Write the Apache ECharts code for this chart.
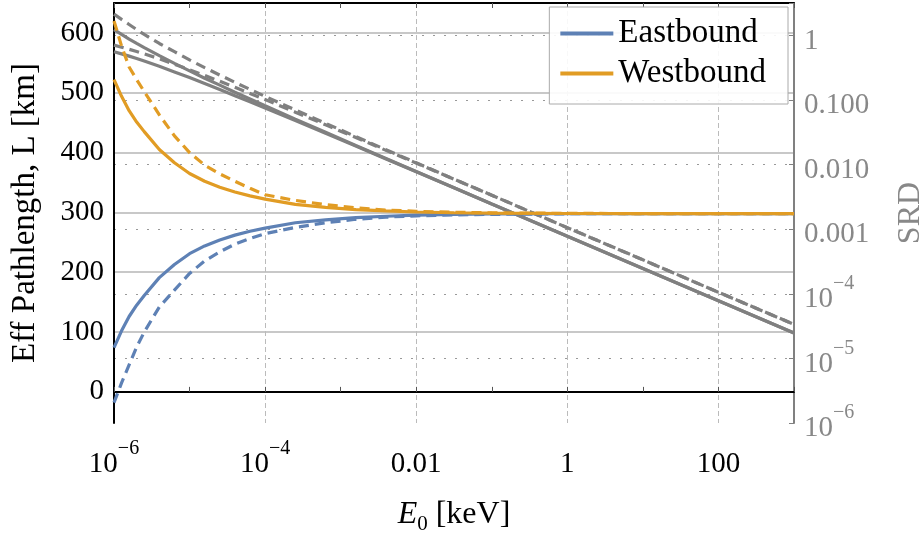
<!DOCTYPE html>
<html>
<head>
<meta charset="utf-8">
<title>Eff Pathlength and SRD vs E0</title>
<script src="https://cdn.jsdelivr.net/npm/echarts@6.0.0/dist/echarts.min.js"></script>
<style>
  html, body { margin: 0; padding: 0; background: #fff; }
  #chart { width: 923px; height: 541px; }
</style>
</head>
<body>
<div id="chart"></div>
<script>
// E0 [keV] sample points (log spaced)
const energy = [1e-6, 1.259e-6, 1.585e-6, 1.995e-6, 2.512e-6, 3.981e-6, 6.31e-6, 1e-5,
  1.585e-5, 2.512e-5, 3.981e-5, 6.31e-5, 1e-4, 2.512e-4, 6.31e-4, 1.585e-3, 3.981e-3,
  1e-2, 3.162e-2, 0.1, 1, 10, 100, 1000]

// effective pathlength L [km], left axis
const eastSolid = [74, 102, 126, 145, 161, 191, 213, 231, 244, 254, 262, 268.4, 273.7,
  282.7, 287.5, 291.2, 293.6, 295.3, 296.6, 297.3, 297.8, 298, 298, 298]
const eastDashed = [-18, 15, 45, 75, 100, 142, 170, 198, 219, 234, 247, 256.5, 264.5,
  275, 282.6, 288.5, 292.1, 294.3, 295.9, 296.7, 297.7, 298, 298, 298]
const westSolid = [522, 494, 470, 451, 435, 405, 383, 365, 352, 342, 334, 327.6, 322.3,
  313.3, 308.5, 304.8, 302.4, 300.7, 299.4, 298.7, 298.2, 298, 298, 298]
const westDashed = [620, 578, 543, 522, 502, 463, 428, 400, 379, 364.5, 352, 340.4, 329.5,
  320, 313, 307.5, 304, 301.8, 300.2, 299.3, 298.4, 298, 298, 298]

// SRD, right axis (log)
const srdSolidA = [1.239, 1.042, 0.885, 0.759, 0.653, 0.489, 0.371, 0.284, 0.219, 0.171,
  0.133, 0.1045, 0.0822, 0.0509, 0.0318, 0.0199, 0.0125, 0.00785, 0.0044, 0.00247,
  0.000782, 0.000247, 0.0000782, 0.0000247]
const srdSolidB = [0.561, 0.521, 0.481, 0.442, 0.403, 0.334, 0.274, 0.224, 0.181, 0.146,
  0.1175, 0.0942, 0.0753, 0.0482, 0.0306, 0.0195, 0.0123, 0.00778, 0.0044, 0.00247,
  0.000782, 0.000247, 0.0000782, 0.0000247]
const srdDashedA = [2.153, 1.782, 1.486, 1.239, 1.045, 0.755, 0.564, 0.421, 0.319, 0.245,
  0.189, 0.147, 0.1146, 0.0706, 0.0439, 0.0273, 0.0171, 0.01074, 0.00598, 0.00337,
  0.00106, 0.000337, 0.000106, 0.0000337]
const srdDashedB = [0.713, 0.662, 0.614, 0.568, 0.522, 0.438, 0.36, 0.296, 0.242, 0.196,
  0.158, 0.127, 0.1021, 0.0652, 0.0415, 0.0264, 0.0167, 0.0106, 0.00598, 0.00337,
  0.00106, 0.000337, 0.000106, 0.0000337]

const blue = '#5e81b5'
const orange = '#e19c24'
const gray = '#808080'
const font = 'Liberation Serif'

const pairs = (ys) => energy.map((e, i) => [e, ys[i]])

const labelRich = (color) => ({
  b: { fontFamily: font, fontSize: 29, lineHeight: 40, verticalAlign: 'bottom', color: color },
  s: { fontFamily: font, fontSize: 20, lineHeight: 20, verticalAlign: 'top', color: color }
})

const decade = (v) => Math.round(Math.log10(v))
const isDecade = (v) => Math.abs(Math.log10(v) - decade(v)) < 1e-6

const xLabel = (v) => {
  if (!isDecade(v)) return ''
  const k = decade(v)
  if (k % 2 !== 0) return ''
  if (k < -2) return '{b|10}{s|\u2212' + (-k) + '}'
  const txt = { '-2': '0.01', '0': '1', '2': '100' }[k]
  return '{b|' + txt + '}'
}

const srdLabel = (v) => {
  if (!isDecade(v)) return ''
  const k = decade(v)
  if (k > 0) return ''
  if (k <= -4) return '{b|10}{s|\u2212' + (-k) + '}'
  const txt = { '-3': '0.001', '-2': '0.010', '-1': '0.100', '0': '1' }[k]
  return '{b|' + txt + '}'
}

const line = (name, ys, color, dashed, yAxisIndex) => ({
  name: name,
  type: 'line',
  yAxisIndex: yAxisIndex,
  data: pairs(ys),
  symbol: 'none',
  clip: true,
  emphasis: { disabled: true },
  lineStyle: { color: color, width: 3.2, type: dashed ? [10, 6] : 'solid' },
  itemStyle: { color: color }
})

const chart = echarts.init(document.getElementById('chart'))

const option = {
  animation: false,
  backgroundColor: '#fff',
  grid: { left: 114, right: 129, top: 3, bottom: 118, outerBoundsMode: 'none', containLabel: false },
  legend: {
    data: [
      { name: 'Eastbound', icon: 'rect' },
      { name: 'Westbound', icon: 'rect' }
    ],
    orient: 'vertical',
    right: 135,
    top: 7,
    backgroundColor: 'rgba(255,255,255,0.9)',
    borderColor: '#aaa',
    borderWidth: 1,
    borderRadius: 0,
    padding: [10, 22, 14, 11],
    itemWidth: 53,
    itemHeight: 4,
    itemGap: 7,
    selectedMode: false,
    textStyle: { fontFamily: font, fontSize: 33, lineHeight: 30, color: '#000' }
  },
  xAxis: [
    {
      type: 'log',
      logBase: 10,
      min: 1e-6,
      max: 1000,
      splitNumber: 9,
      position: 'bottom',
      name: '{i|E}{sub|0}{n| [keV]}',
      nameLocation: 'middle',
      nameGap: 76,
      nameTextStyle: {
        rich: {
          i: { fontFamily: font, fontSize: 32, fontStyle: 'italic', lineHeight: 30, verticalAlign: 'top', color: '#000' },
          sub: { fontFamily: font, fontSize: 21, lineHeight: 20, padding: [15, 0, 0, 0], verticalAlign: 'top', color: '#000' },
          n: { fontFamily: font, fontSize: 32, lineHeight: 30, verticalAlign: 'top', color: '#000' }
        }
      },
      axisLine: { show: true, lineStyle: { color: '#000', width: 2 } },
      axisTick: { show: true, inside: true, length: 5, lineStyle: { color: '#555' } },
      axisLabel: { margin: 16, formatter: xLabel, rich: labelRich('#000') },
      splitLine: {
        show: true,
        showMinLine: false,
        showMaxLine: false,
        lineStyle: { color: ['rgba(0,0,0,0)', '#bbb'], width: 1, type: [5, 3] }
      }
    },
    {
      // top frame
      type: 'log',
      logBase: 10,
      min: 1e-6,
      max: 1000,
      splitNumber: 9,
      position: 'top',
      axisLine: { show: true, lineStyle: { color: '#000', width: 2 } },
      axisTick: { show: true, inside: true, length: 5, lineStyle: { color: '#555' } },
      axisLabel: { show: false },
      splitLine: { show: false }
    }
  ],
  yAxis: [
    {
      type: 'value',
      min: -52,
      max: 650,
      splitNumber: 7,
      position: 'left',
      name: 'Eff Pathlength, L [km]',
      nameLocation: 'middle',
      nameGap: 72,
      nameTextStyle: { fontFamily: font, fontSize: 33, color: '#000' },
      axisLine: { show: true, lineStyle: { color: '#000', width: 2 } },
      axisTick: { show: false },
      axisLabel: {
        margin: 10,
        fontFamily: font,
        fontSize: 29,
        color: '#000',
        formatter: (v) => (Math.round(v) % 100 === 0 ? String(Math.round(v)) : '')
      },
      splitLine: {
        show: true,
        showMinLine: false,
        showMaxLine: false,
        lineStyle: { color: '#c8c8c8', width: 2 }
      }
    },
    {
      type: 'log',
      logBase: 10,
      min: 1e-6,
      max: 3.2,
      splitNumber: 7,
      position: 'right',
      name: 'SRD',
      nameLocation: 'middle',
      nameRotate: 90,
      nameGap: 101,
      nameTextStyle: { fontFamily: font, fontSize: 32, color: '#888' },
      axisLine: { show: true, lineStyle: { color: gray, width: 2 } },
      axisTick: { show: true, inside: true, length: 5, lineStyle: { color: gray } },
      axisLabel: { margin: 10, formatter: srdLabel, rich: labelRich('#888') },
      splitLine: {
        show: true,
        showMinLine: false,
        showMaxLine: false,
        lineStyle: { color: '#999', width: 1, type: [2, 9] }
      }
    }
  ],
  series: [
    line('SRD solid A', srdSolidA, gray, false, 1),
    line('SRD solid B', srdSolidB, gray, false, 1),
    line('SRD dashed A', srdDashedA, gray, true, 1),
    line('SRD dashed B', srdDashedB, gray, true, 1),
    line('Eastbound', eastSolid, blue, false, 0),
    line('Eastbound', eastDashed, blue, true, 0),
    line('Westbound', westSolid, orange, false, 0),
    line('Westbound', westDashed, orange, true, 0)
  ]
}

chart.setOption(option)
</script>
</body>
</html>
